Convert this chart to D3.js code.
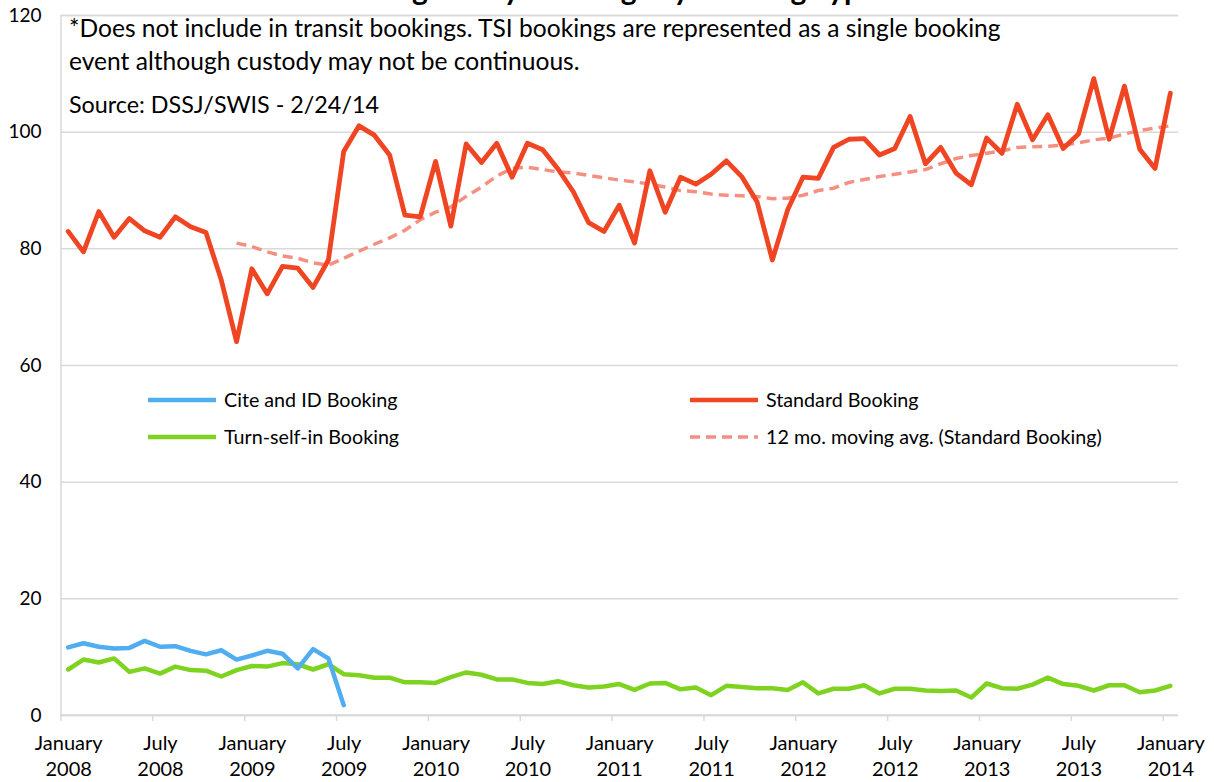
<!DOCTYPE html>
<html><head><meta charset="utf-8">
<script src="https://cdn.jsdelivr.net/npm/d3@7"></script>
<style>
body{margin:0;background:#fff;}
svg{display:block;}
text{font-family:Lato,'Open Sans',sans-serif;fill:#000;}
</style>
</head><body>
<svg id="chart" width="1214" height="782"></svg>
<script>
// ---- data ----
const months = d3.timeMonth.range(new Date(2008,0,1), new Date(2014,1,1)); // Jan 2008 .. Jan 2014 (73)
const tickLabels = ["January|2008","July|2008","January|2009","July|2009","January|2010","July|2010","January|2011","July|2011","January|2012","July|2012","January|2013","July|2013","January|2014"];
const yTicks = [0,20,40,60,80,100,120];

const standardBooking = [82.9,79.4,86.3,81.9,85.1,83.0,81.9,85.4,83.7,82.7,74.6,64.0,
 76.5,72.2,76.9,76.6,73.3,78.0,96.6,101.0,99.4,96.0,85.7,85.4,
 94.9,83.8,97.9,94.7,98.0,92.2,98.0,96.9,93.6,89.7,84.4,82.9,
 87.4,80.9,93.3,86.2,92.2,91.0,92.7,95.0,92.3,88.0,78.0,86.6,
 92.2,92.0,97.3,98.7,98.8,96.0,97.1,102.6,94.5,97.3,92.9,90.9,
 98.9,96.3,104.7,98.6,102.9,97.1,99.6,109.1,98.7,107.8,97.0,93.7,
 106.6];
const movingAvg = [null,null,null,null,null,null,null,null,null,null,null,80.9,
 80.3,79.4,78.7,78.3,77.5,77.1,78.3,79.5,80.7,81.8,83.1,84.9,
 86.2,87.1,88.9,90.5,92.4,93.7,93.9,93.5,93.1,92.9,92.5,92.1,
 91.7,91.4,91.0,90.5,89.9,89.7,89.3,89.1,89.0,88.9,88.5,88.6,
 89.1,89.9,90.3,91.3,91.8,92.3,92.7,93.1,93.5,94.5,95.4,95.9,
 96.3,96.7,97.3,97.4,97.5,97.7,98.1,98.6,98.9,99.6,100.2,100.6,
 101.0];
const citeIdBooking = [11.6,12.3,11.7,11.4,11.5,12.7,11.7,11.8,11.0,10.4,11.1,9.5,
 10.2,11.0,10.5,8.0,11.3,9.7,1.7];
const turnSelfIn = [7.8,9.5,9.0,9.7,7.4,8.0,7.1,8.3,7.7,7.6,6.6,7.7,
 8.4,8.3,8.9,8.7,7.8,8.7,7.0,6.8,6.4,6.4,5.6,5.6,
 5.5,6.5,7.3,6.9,6.1,6.1,5.5,5.3,5.8,5.1,4.7,4.9,
 5.3,4.3,5.4,5.5,4.4,4.7,3.4,5.0,4.8,4.6,4.6,4.3,
 5.6,3.7,4.5,4.5,5.1,3.7,4.5,4.5,4.2,4.1,4.2,3.0,
 5.4,4.6,4.5,5.2,6.4,5.3,5.0,4.2,5.1,5.1,3.9,4.2,
 5.0];

const seriesNames = ["Cite and ID Booking","Standard Booking","Turn-self-in Booking","12 mo. moving avg. (Standard Booking)"];
const colors = {cite:"#4FADF0", standard:"#F04523", tsi:"#7ED321", avg:"#F59080"};
const titleText = "Average Daily Bookings by Booking Type*";
const noteLines = ["*Does not include in transit bookings. TSI bookings are represented as a single booking",
 "event although custody may not be continuous."];
const sourceText = "Source: DSSJ/SWIS - 2/24/14";

// ---- layout ----
const svg = d3.select("#chart");
const L = 60.5, R = 1178, T = 15, B = 715;
const n = months.length;
const xb = d3.scaleBand().domain(d3.range(n)).range([L, R]).padding(0);
const xl = d3.scaleLinear().domain([0, n]).range([L, R]);
const cx = i => xb(i) + xb.bandwidth()/2;
const y = d3.scaleLinear().domain([0,120]).range([B, T]);
const grid = "#d9d9d9";

// title (cut off at top, as in the reference)
svg.append("text").attr("x", 612).attr("y", 0).attr("text-anchor","middle")
  .style("font-size","30px").style("font-weight","bold").text(titleText);

// gridlines + y labels
const gAxisY = svg.append("g").attr("transform",`translate(${L},0)`)
  .call(d3.axisLeft(y).tickValues(yTicks).tickSize(-(R-L)).tickFormat(d3.format("d")).tickPadding(19));
gAxisY.select(".domain").attr("stroke",grid).attr("stroke-width",1.5);
gAxisY.selectAll(".tick line").attr("stroke",grid).attr("stroke-width",1.5);
gAxisY.selectAll(".tick text").style("font-size","19px").style("font-family","Lato").attr("fill","#000");

// x axis ticks (at month boundaries)
const gTicks = svg.append("g").attr("transform",`translate(0,${B})`)
  .call(d3.axisBottom(xl).tickValues(d3.range(0, n, 6)).tickSize(6).tickFormat(""));
gTicks.select(".domain").attr("stroke",grid).attr("stroke-width",1.5).attr("d",`M${L},0H${R}`);
gTicks.selectAll(".tick line").attr("stroke",grid).attr("stroke-width",1.5);

// x axis labels (centered on months)
const gLab = svg.append("g").attr("transform",`translate(0,${B})`)
  .call(d3.axisBottom(xl).tickValues(d3.range(0, n, 6).map(v=>v+0.5)).tickSize(0)
     .tickFormat((d,i)=>tickLabels[i]));
gLab.select(".domain").remove();
gLab.selectAll(".tick text").each(function(){
  const t = d3.select(this); const parts = t.text().split("|");
  t.text(null).attr("y",0).attr("dy",null).style("font-size","20px").style("font-family","Lato").attr("fill","#000");
  t.append("tspan").attr("x",0).attr("y",35).text(parts[0]);
  t.append("tspan").attr("x",0).attr("y",61).text(parts[1]);
});

// notes
svg.append("text").attr("x",69).attr("y",37).style("font-size","24.6px").text(noteLines[0]);
svg.append("text").attr("x",69).attr("y",70).style("font-size","24.6px").text(noteLines[1]);
svg.append("text").attr("x",69).attr("y",113).style("font-size","23.3px").text(sourceText);

// lines
const line = d3.line().defined(d=>d!=null).x((d,i)=>cx(i)).y(d=>y(d)).curve(d3.curveLinear);
svg.append("path").datum(movingAvg).attr("d",line).attr("fill","none")
  .attr("stroke",colors.avg).attr("stroke-width",3.5).attr("stroke-dasharray","10,6");
svg.append("path").datum(turnSelfIn).attr("d",line).attr("fill","none")
  .attr("stroke",colors.tsi).attr("stroke-width",4.5).attr("stroke-linejoin","round").attr("stroke-linecap","round");
svg.append("path").datum(citeIdBooking).attr("d",line).attr("fill","none")
  .attr("stroke",colors.cite).attr("stroke-width",4.5).attr("stroke-linejoin","round").attr("stroke-linecap","round");
svg.append("path").datum(standardBooking).attr("d",line).attr("fill","none")
  .attr("stroke",colors.standard).attr("stroke-width",4.8).attr("stroke-linejoin","round").attr("stroke-linecap","round");

// legend
const legend = [
  {name:seriesNames[0], color:colors.cite, x:148, y:400, dash:null},
  {name:seriesNames[1], color:colors.standard, x:690, y:400, dash:null},
  {name:seriesNames[2], color:colors.tsi, x:148, y:437, dash:null},
  {name:seriesNames[3], color:colors.avg, x:690, y:437, dash:"10,6"}
];
const lg = svg.append("g").selectAll("g").data(legend).join("g");
lg.append("line").attr("x1",d=>d.x).attr("x2",d=>d.x+68).attr("y1",d=>d.y).attr("y2",d=>d.y)
  .attr("stroke",d=>d.color).attr("stroke-width",d=>d.dash?3.5:4.5).attr("stroke-dasharray",d=>d.dash);
lg.append("text").attr("x",d=>d.x+76).attr("y",d=>d.y).attr("dy","0.35em")
  .style("font-size","19.7px").text(d=>d.name);
</script>
</body></html>
